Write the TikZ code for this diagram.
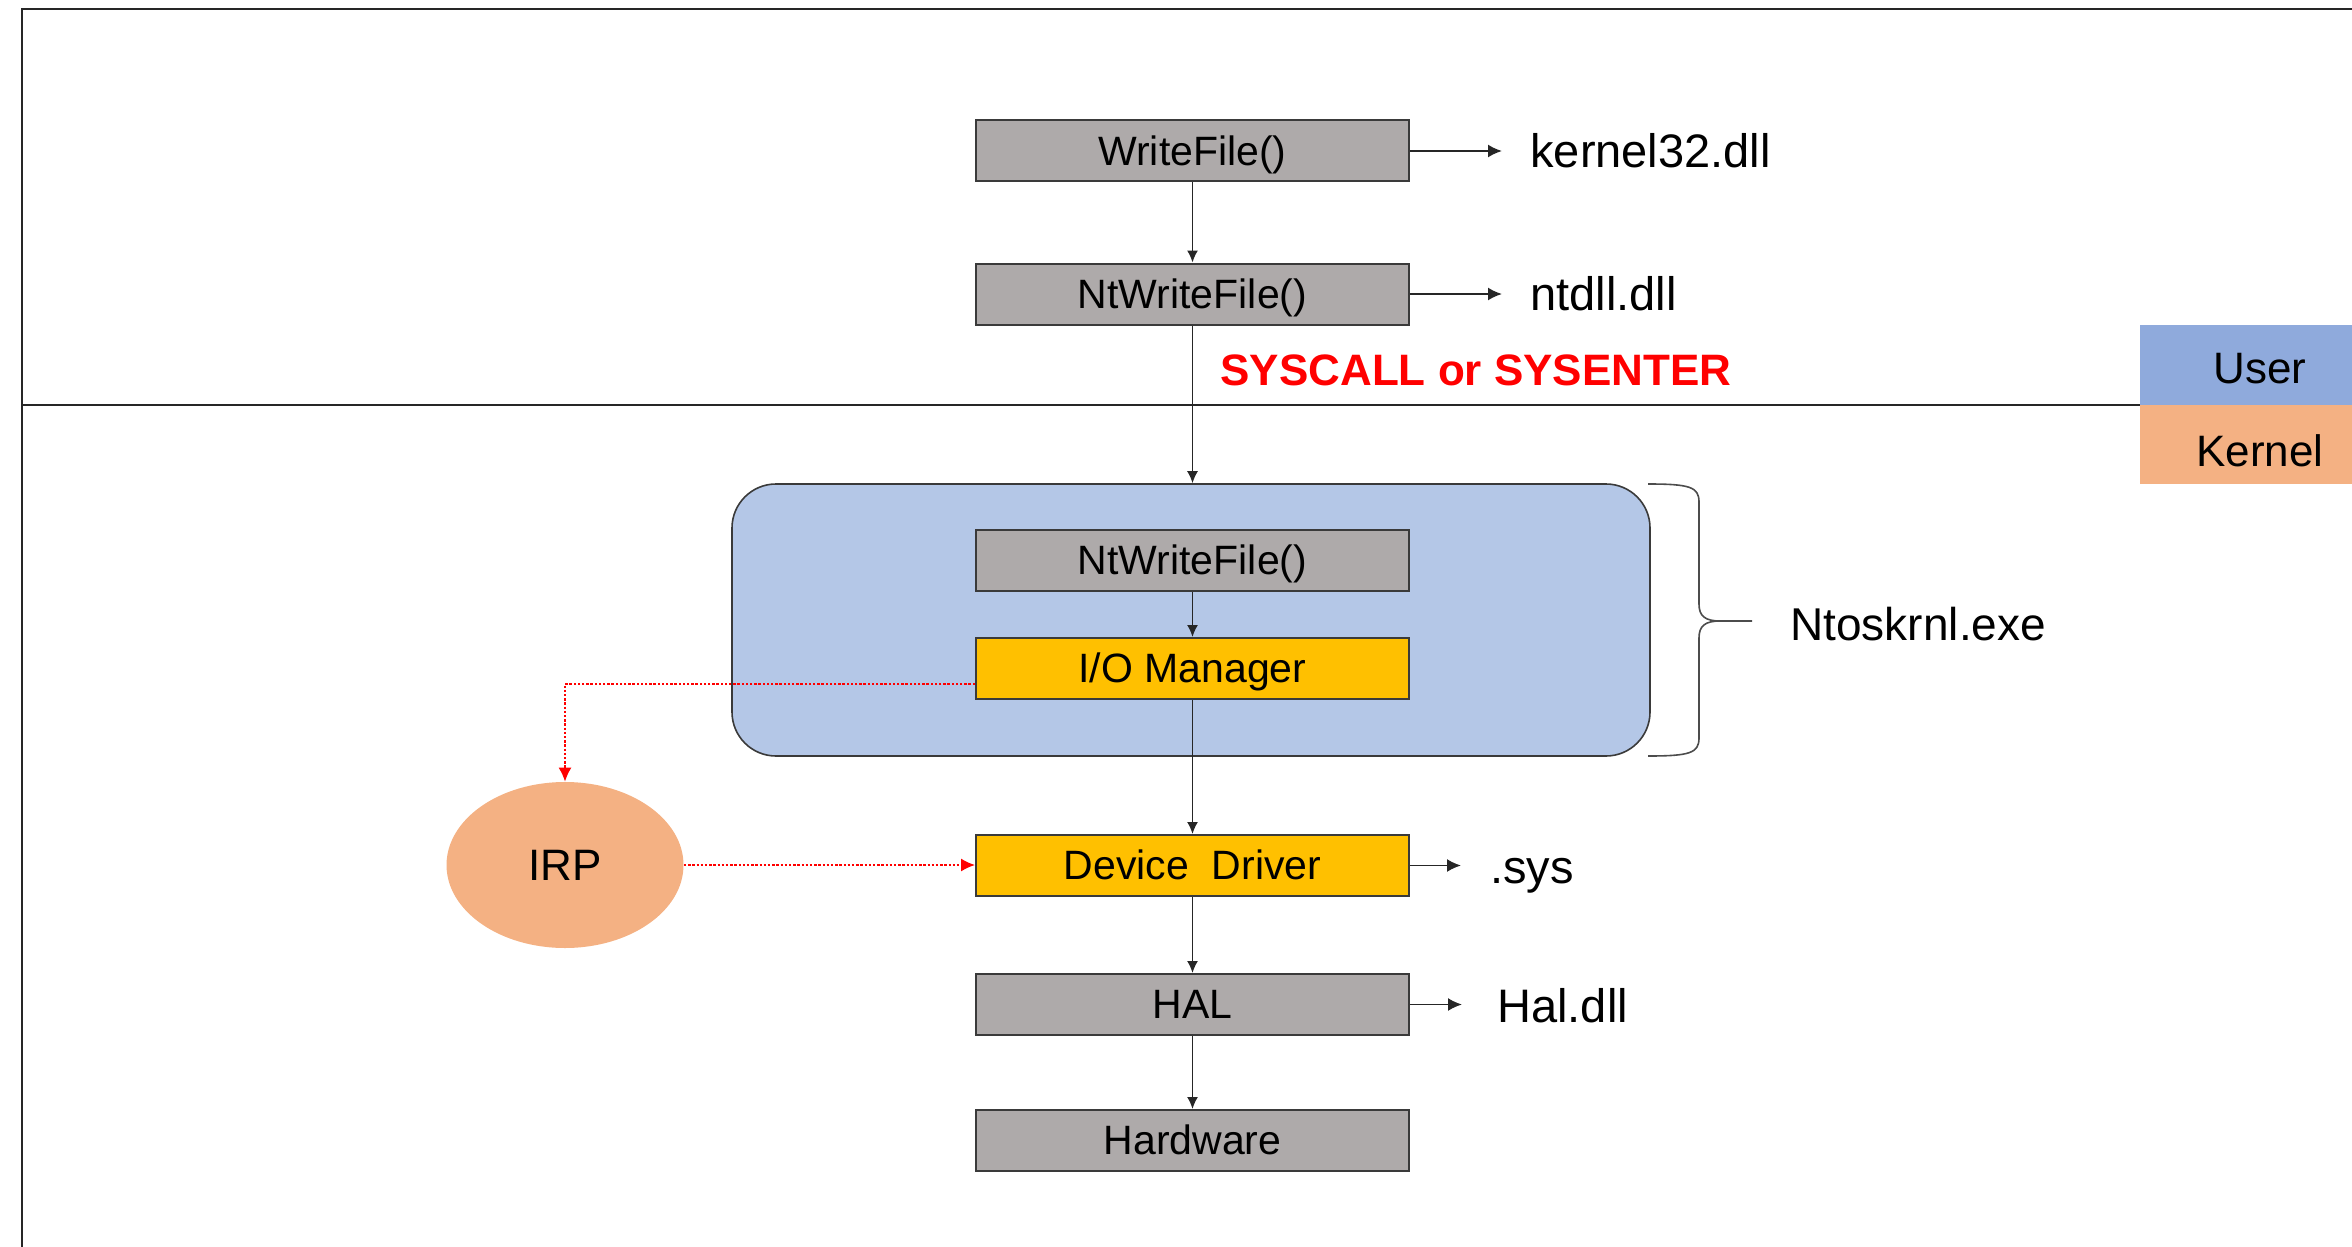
\documentclass[tikz,border=0pt]{standalone}
\usepackage{fontspec}
\setmainfont{Liberation Sans}
\usetikzlibrary{arrows.meta,shapes.geometric}

\definecolor{boxgray}{HTML}{AEAAAA}
\definecolor{boxedge}{HTML}{3A3A3A}
\definecolor{ioyellow}{HTML}{FFC000}
\definecolor{kernblue}{HTML}{B4C7E7}
\definecolor{userblue}{HTML}{8FAADC}
\definecolor{kernorange}{HTML}{F4B183}
\definecolor{sysred}{HTML}{FF0000}

\tikzset{
  layerbox/.style={draw=boxedge, line width=1pt, fill=boxgray, minimum width=216.5pt,
    minimum height=30.5pt, inner sep=0pt, text height=14.1pt, text depth=0pt,
    font=\fontsize{20.5}{24}\selectfont},
  yellowbox/.style={layerbox, fill=ioyellow},
  libtext/.style={inner sep=0pt, anchor=base west, font=\fontsize{23.5}{28}\selectfont},
  arr/.style={draw=black!85, line width=0.8pt, -{Latex[length=6pt,width=5.5pt]}},
  sidearr/.style={draw=black!85, line width=0.9pt, -{Latex[length=7pt,width=6.5pt]}},
  irparr/.style={draw=sysred, line width=0.75pt, dash pattern=on 1.2pt off 0.9pt,
    -{Latex[length=7pt,width=6.5pt]}}
}

\begin{document}
\begin{tikzpicture}[x=0.5pt, y=-0.5pt]
\useasboundingbox (0,0) rectangle (2352,1247);

% outer frame and the user/kernel boundary
\draw[black!85, line width=1.2pt] (22,1247) -- (22,9) -- (2352,9);
\draw[black!85, line width=0.8pt] (22,405) -- (2140,405);

% mode legend
\fill[userblue] (2140,325) rectangle (2352,405);
\fill[kernorange] (2140,405) rectangle (2352,484);
\node[inner sep=0pt, anchor=base, font=\fontsize{22}{26}\selectfont] (user) at (2260,383) {User};
\node[inner sep=0pt, anchor=base, font=\fontsize{22}{26}\selectfont] (kernel) at (2260,466) {Kernel};

% user mode calls
\node[layerbox] (wf) at (1192.5,151) {WriteFile()};
\node[layerbox] (nwf) at (1192.5,294) {NtWriteFile()};
\node[libtext] (k32) at (1530,168) {kernel32.dll};
\node[libtext] (ntdll) at (1530,310) {ntdll.dll};
\draw[sidearr, shorten >=14pt] (wf.east) -- (wf.east -| k32.west);
\draw[sidearr, shorten >=14pt] (nwf.east) -- (nwf.east -| ntdll.west);
\draw[arr] (wf) -- (nwf);

\node[inner sep=0pt, anchor=base, text=sysred, font=\fontsize{22}{26}\selectfont\bfseries] (sys) at (1476,385) {SYSCALL or SYSENTER};

% ntoskrnl
\node[draw=boxedge, line width=0.8pt, fill=kernblue, rounded corners=22pt,
  minimum width=459pt, minimum height=136pt, inner sep=0pt] (nt) at (1191,620) {};
\node[layerbox] (knwf) at (1192.5,560.5) {NtWriteFile()};
\node[yellowbox] (io) at (1192.5,668.5) {I/O Manager};
\draw[arr] (nwf.south) -- (nwf.south |- nt.north);
\draw[arr] (knwf) -- (io);

% brace for Ntoskrnl.exe
\draw[black!70, line width=0.8pt]
  (1648,484) .. controls (1690,484) and (1699,487) .. (1699,502) -- (1699,604)
  .. controls (1699,616) and (1705,621) .. (1720,621) -- (1752,621)
  (1648,756) .. controls (1690,756) and (1699,753) .. (1699,738) -- (1699,638)
  .. controls (1699,626) and (1705,621) .. (1720,621);
\node[libtext, font=\fontsize{23}{28}\selectfont] (ntos) at (1790,640) {Ntoskrnl.exe};

% driver stack
\node[yellowbox] (dd) at (1192.5,865.5) {Device\ \ Driver};
\node[layerbox] (hal) at (1192.5,1004.5) {HAL};
\node[layerbox] (hw) at (1192.5,1140.5) {Hardware};
\node[libtext] (sysf) at (1490,883) {.sys};
\node[libtext] (hdll) at (1497,1022) {Hal.dll};
\draw[arr] (io) -- (dd);
\draw[arr] (dd) -- (hal);
\draw[arr] (hal) -- (hw);
\draw[sidearr, shorten >=14.5pt] (dd.east) -- (dd.east -| sysf.west);
\draw[sidearr, shorten >=17.5pt] (hal.east) -- (hal.east -| hdll.west);

% IRP
\node[ellipse, fill=kernorange, minimum width=118.5pt, minimum height=83pt, inner sep=0pt,
  text height=15.2pt, text depth=0pt, font=\fontsize{22}{26}\selectfont] (irp) at (565,865) {IRP};
\coordinate (irpturn) at (565,684);
\draw[irparr] (io.west |- irpturn) -- (irpturn) -- (irp.north);
\draw[irparr] (irp.east) -- (dd.west |- irp.east);
\end{tikzpicture}
\end{document}
